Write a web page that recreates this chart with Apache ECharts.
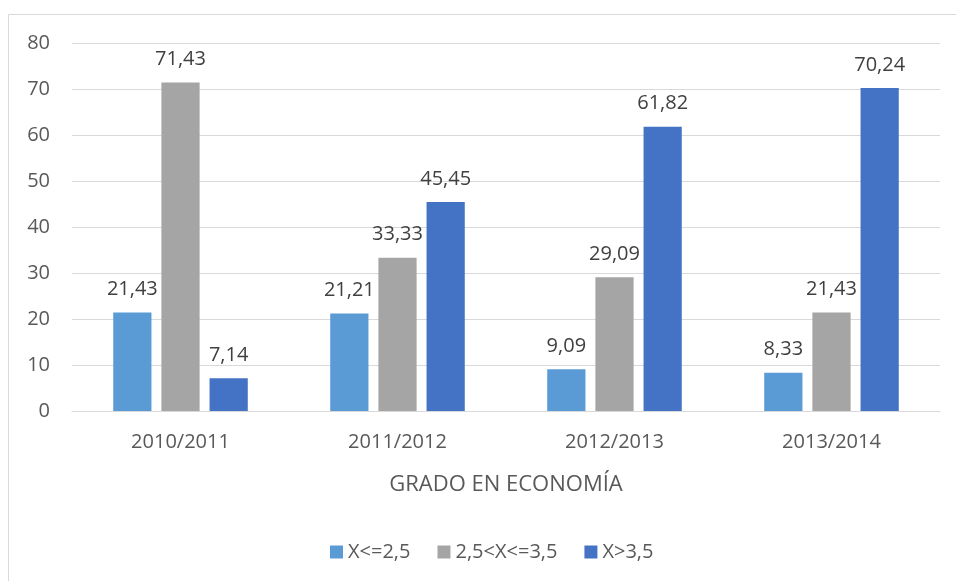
<!DOCTYPE html>
<html>
<head>
<meta charset="utf-8">
<script src="https://cdn.jsdelivr.net/npm/echarts@6/dist/echarts.min.js"></script>
<style>html,body{margin:0;padding:0;background:#fff;}#c{width:956px;height:581px;}</style>
</head>
<body>
<div id="c"></div>
<script>
const categories = ['2010/2011', '2011/2012', '2012/2013', '2013/2014'];
const seriesNames = ['X<=2,5', '2,5<X<=3,5', 'X>3,5'];
const low = [21.43, 21.21, 9.09, 8.33];
const mid = [71.43, 33.33, 29.09, 21.43];
const high = [7.14, 45.45, 61.82, 70.24];
const colors = ['#5B9BD5', '#A5A5A5', '#4472C4'];
const FONT = 'Open Sans';
const FS = 20;

const chart = echarts.init(document.getElementById('c'));
const labelCfg = {
  show: true, position: 'top', distance: 13,
  color: '#404040', fontFamily: FONT, fontSize: FS,
  formatter: p => p.value.toFixed(2).replace('.', ',')
};
const mk = (name, data, i) => ({
  name, type: 'bar', data, barGap: '26%', barCategoryGap: '38%',
  itemStyle: { color: colors[i] }, label: labelCfg
});
chart.setOption({
  animation: false,
  textStyle: { fontFamily: FONT },
  graphic: [{
    type: 'rect', shape: { x: 8.5, y: 14.5, width: 1000, height: 1000 },
    style: { fill: 'none', stroke: '#d9d9d9', lineWidth: 1 }, silent: true, z: -1
  }],
  grid: { left: 72, right: 16, top: 43, bottom: 170, containLabel: false },
  xAxis: {
    type: 'category', data: categories,
    name: 'GRADO EN ECONOMÍA', nameLocation: 'middle', nameGap: 63,
    nameTextStyle: { color: '#595959', fontSize: 22, fontFamily: FONT },
    axisLine: { lineStyle: { color: '#d9d9d9', width: 1 } },
    axisTick: { show: false },
    axisLabel: { color: '#595959', fontSize: FS, fontFamily: FONT, margin: 21 }
  },
  yAxis: {
    type: 'value', min: 0, max: 80, interval: 10,
    axisLine: { show: false }, axisTick: { show: false },
    splitLine: { lineStyle: { color: '#d9d9d9', width: 1 } },
    axisLabel: { color: '#595959', fontSize: FS, fontFamily: FONT, margin: 22 }
  },
  legend: {
    bottom: 14, left: 325, itemWidth: 13, itemHeight: 13, itemGap: 27,
    icon: 'rect',
    textStyle: { color: '#595959', fontSize: FS, fontFamily: FONT },
    data: seriesNames
  },
  series: [mk(seriesNames[0], low, 0), mk(seriesNames[1], mid, 1), mk(seriesNames[2], high, 2)]
});
</script>
</body>
</html>
